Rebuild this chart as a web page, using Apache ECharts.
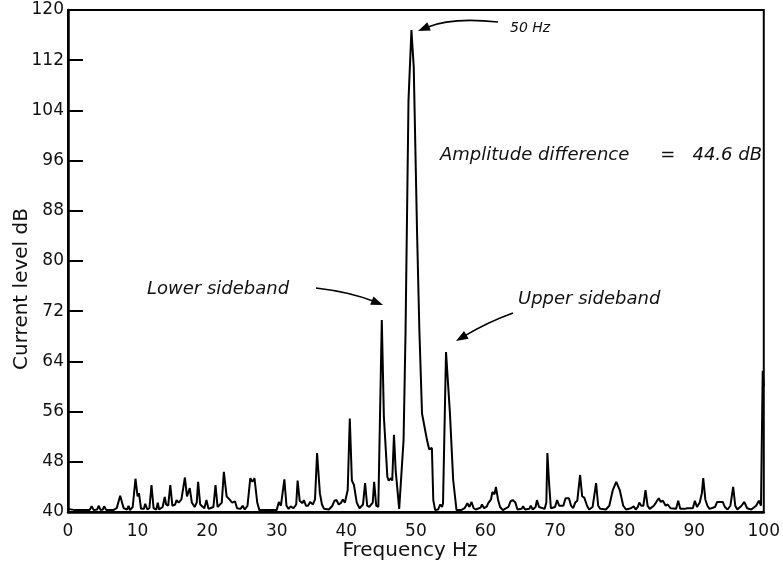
<!DOCTYPE html>
<html>
<head>
<meta charset="utf-8">
<script src="https://cdn.jsdelivr.net/npm/echarts@6/dist/echarts.min.js"></script>
<style>
html,body{margin:0;padding:0;background:#fff;}
#chart{width:783px;height:569px;}
</style>
</head>
<body>
<div id="chart"></div>
<script>
// Frequency (Hz) and current level (dB)
const freq = [
0,1,2.5,3.1,3.4,3.7,4.2,4.4,4.7,5.0,5.2,5.5,6.5,7.0,7.5,8.0,8.5,8.7,8.9,9.3,9.7,10.0,10.2,10.5,
10.9,11.1,11.4,11.7,12.0,12.3,12.7,12.9,13.1,13.6,13.9,14.1,14.4,14.7,15.0,15.4,15.6,15.9,
16.3,16.8,17.1,17.3,17.5,17.8,18.2,18.5,18.7,19.0,19.6,19.9,20.2,20.9,21.2,21.5,22.1,22.4,
22.8,23.2,23.6,24.0,24.3,24.8,25.1,25.4,25.8,26.2,26.5,26.8,27.2,27.5,30.0,30.3,30.6,31.1,
31.4,31.7,32.0,32.4,32.8,33.0,33.3,33.7,33.9,34.2,34.5,34.8,35.2,35.5,35.8,36.2,36.5,36.8,
37.5,38.0,38.3,38.6,38.9,39.2,39.5,39.8,40.2,40.5,40.8,41.1,41.5,41.9,42.4,42.7,43.0,43.3,
43.8,44.0,44.3,44.6,45.1,45.4,45.9,46.1,46.4,46.6,46.85,47.1,47.3,47.6,47.75,48.23,48.51,
48.94,49.36,49.69,50.17,50.5,50.88,51.59,51.9,52.3,52.5,52.77,53.2,53.5,53.76,53.9,54.33,
54.89,55.36,55.84,56.5,57.0,57.4,57.7,58.0,58.3,58.6,59.3,59.5,59.8,60.2,60.4,60.8,61.0,
61.3,61.5,61.8,62.1,62.5,63.3,63.6,63.9,64.3,64.6,65.2,65.4,65.7,66.3,66.5,66.8,67.2,67.4,
67.7,68.5,68.75,68.9,69.15,69.4,70.0,70.3,70.6,71.2,71.5,72.0,72.3,72.6,72.9,73.2,73.6,
73.9,74.2,74.6,74.9,75.4,75.9,76.2,76.5,77.3,77.8,78.3,78.8,79.3,79.8,80.2,80.9,81.3,81.6,
81.9,82.1,82.4,82.7,83.0,83.3,83.6,84.2,84.5,84.9,85.2,85.5,85.9,86.2,86.6,87.4,87.7,88.0,
88.6,89.0,89.8,90.1,90.4,90.8,91.1,91.3,91.6,91.9,92.2,93.0,93.3,94.1,94.4,94.8,95.2,95.6,
95.9,96.2,96.8,97.2,97.6,98.2,98.9,99.3,99.6,99.85,100
];
const level = [
40.5,40.3,40.3,40.3,40.9,40.3,40.4,41.0,40.3,40.4,40.9,40.3,40.3,40.6,42.6,40.6,40.4,41.0,40.3,40.8,45.3,42.5,43.0,40.5,
40.5,41.3,40.4,40.6,44.3,40.6,40.4,41.5,40.4,40.8,42.4,41.2,41.0,44.3,41.0,41.2,41.9,41.5,
42.0,45.5,42.5,42.3,43.8,41.5,40.8,41.5,44.8,41.2,40.6,41.9,40.5,40.8,44.3,40.8,41.5,46.4,
42.5,42.0,41.5,41.7,40.6,40.5,41.0,40.4,41.0,45.4,44.8,45.4,41.5,40.3,40.3,41.6,41.0,45.2,
41.0,40.5,40.9,40.6,41.2,45.0,41.8,41.4,41.9,41.0,41.0,41.6,41.2,42.0,49.4,43.0,41.2,40.5,
40.4,41.0,41.8,41.9,41.2,41.4,42.0,41.5,43.5,54.9,45.0,44.3,41.5,40.6,41.2,44.6,41.0,40.8,
41.5,44.8,41.0,40.8,70.6,55.2,45.6,45.0,45.4,45.0,52.3,46.5,46.8,40.5,40.6,51.5,68.5,
105.7,116.8,110.9,84.5,69.0,55.7,51.5,50.0,50.2,41.9,40.3,40.4,41.2,40.8,41.4,65.5,
55.8,45.1,40.3,40.3,40.6,41.4,40.8,41.6,40.6,40.4,40.7,41.2,40.6,40.9,41.4,42.0,43.2,
42.8,44.0,42.0,40.8,40.3,40.8,41.7,41.9,41.5,40.4,40.5,40.9,40.4,40.5,41.0,40.4,40.8,41.9,
40.8,40.5,41.5,49.4,44.5,40.6,40.8,41.9,41.0,41.0,42.2,42.2,41.0,40.6,41.5,41.8,45.9,
42.5,42.3,41.0,40.4,40.8,44.6,41.0,40.5,40.4,41.0,43.5,44.8,43.5,41.0,40.4,40.6,40.9,40.4,
40.8,41.5,41.0,41.0,43.5,41.0,40.5,41.0,41.5,42.2,41.6,41.8,41.0,41.2,40.6,40.5,41.8,40.5,
40.5,40.6,40.6,41.8,40.8,41.5,43.0,45.4,42.0,41.0,40.5,40.8,41.6,41.6,40.8,40.4,41.0,44.0,
41.0,40.4,41.0,41.6,40.6,40.4,41.0,41.8,41.0,62.5,60
];
const yTicks = {min: 40, max: 120, step: 8};
const xTicks = {min: 0, max: 100, step: 10};

const data = freq.map((f, i) => [f, level[i]]);

const FONT = 'DejaVu Sans';

function arrow(p0, c, p1) {
  const dx = p1[0] - c[0], dy = p1[1] - c[1];
  const L = Math.hypot(dx, dy);
  const ux = dx / L, uy = dy / L;
  const hl = 12, hw = 4.5;
  const bx = p1[0] - ux * hl, by = p1[1] - uy * hl;
  return [
    {type: 'bezierCurve', shape: {x1: p0[0], y1: p0[1], cpx1: c[0], cpy1: c[1], x2: bx + ux * 2, y2: by + uy * 2},
     style: {stroke: '#000', lineWidth: 1.6, fill: null}},
    {type: 'polygon', shape: {points: [[p1[0], p1[1]], [bx - uy * hw, by + ux * hw], [bx + uy * hw, by - ux * hw]]},
     style: {fill: '#000'}}
  ];
}
function label(text, x, y, size, align, italic, rot) {
  const g = {type: 'text', x: x, y: y, style: {text: text, fontSize: size, fontFamily: FONT,
    fontStyle: italic ? 'italic' : 'normal', fill: '#111', align: align, verticalAlign: 'middle'}};
  if (rot) g.rotation = rot;
  return g;
}

const chart = echarts.init(document.getElementById('chart'));
chart.setOption({
  animation: false,
  backgroundColor: '#fff',
  grid: {left: 68, right: 10, top: 10, bottom: 57, show: true, borderColor: '#000', borderWidth: 2, containLabel: false},
  xAxis: {
    type: 'value', min: xTicks.min, max: xTicks.max, interval: xTicks.step,
    axisLine: {show: true, lineStyle: {color: '#000', width: 2.5}},
    axisTick: {show: false},
    splitLine: {show: false},
    axisLabel: {color: '#111', fontSize: 17, fontFamily: FONT, margin: 11}
  },
  yAxis: {
    type: 'value', min: yTicks.min, max: yTicks.max, interval: yTicks.step,
    axisLine: {show: true, lineStyle: {color: '#000', width: 2.5}},
    axisTick: {show: true, inside: true, length: 15, lineStyle: {color: '#000', width: 2}},
    splitLine: {show: false},
    axisLabel: {color: '#111', fontSize: 17, fontFamily: FONT, margin: 4}
  },
  series: [{
    type: 'line', data: data, symbol: 'none', smooth: false, clip: true,
    lineStyle: {color: '#000', width: 2}
  }],
  graphic: [
    label('Current level dB', 22, 289, 20, 'center', false, Math.PI / 2),
    label('Frequency Hz', 410, 551, 20, 'center', false),
    label('50 Hz', 510, 28, 14, 'left', true),
    label('Amplitude difference', 440, 155, 18, 'left', true),
    label('=   44.6 dB', 762, 155, 18, 'right', true),
    label('Lower sideband', 147, 289, 18, 'left', true),
    label('Upper sideband', 518, 299, 18, 'left', true),
    ...arrow([498, 22], [452, 17], [418, 31]),
    ...arrow([316, 288], [350, 292], [383, 305]),
    ...arrow([513, 313], [488, 322], [456, 341])
  ]
});
</script>
</body>
</html>
